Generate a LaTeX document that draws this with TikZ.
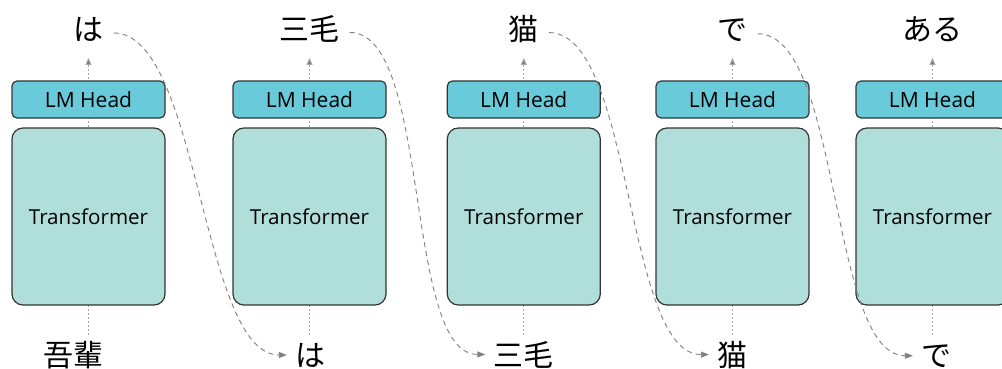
\documentclass[tikz,border=0pt]{standalone}
\usepackage{fontspec}
\setmainfont{Open Sans}
\newfontfamily\jp{Noto Sans CJK JP}
\usetikzlibrary{arrows.meta}
\definecolor{headfill}{HTML}{69CAD9}
\definecolor{bodyfill}{HTML}{B0DEDA}
\definecolor{edge}{HTML}{353535}
\definecolor{feedgray}{HTML}{A6A6A6}
\definecolor{passgray}{HTML}{7F7F7F}
\begin{document}
\begin{tikzpicture}[x=1pt,y=-1pt,
  head/.style={draw=edge,fill=headfill,line width=1.2pt,rounded corners=5pt,
    minimum width=153pt,minimum height=37pt,inner sep=0pt,
    font=\fontsize{21}{25}\selectfont},
  body/.style={draw=edge,fill=bodyfill,line width=1.2pt,rounded corners=11pt,
    minimum width=153pt,minimum height=177pt,inner sep=0pt,
    font=\fontsize{20.6}{25}\selectfont},
  word/.style={inner sep=0pt,anchor=base,font=\jp\fontsize{30}{36}\selectfont},
  feed/.style={draw=feedgray,line width=0.8pt,dash pattern=on 2pt off 2pt,
    -{Triangle[length=7pt,width=6pt,fill=passgray]}},
  pass/.style={draw=passgray,line width=0.9pt,dash pattern=on 5pt off 4pt,
    -{Triangle[length=8pt,width=6pt,fill=passgray]}}
]
\useasboundingbox (0,0) rectangle (1002,369);
\clip (0,0) rectangle (1002,369);

% one column per decoding step: x centre, output token, input token, input x
\foreach \i/\x/\outtok/\intok/\bx in {
    1/88.5/は/吾輩/73,
    2/309.5/三毛/は/310,
    3/523.8/猫/三毛/523.5,
    4/732.5/で/猫/732,
    5/932.5/ある/で/936}{
  \coordinate (in\i) at (\x,335);
  \coordinate (out\i) at (\x,58);
  \draw[feed] (in\i) -- (out\i);
  \node[head] (h\i) at (\x,99.5) {LM Head};
  \node[body] (tf\i) at (\x,216.5) {Transformer};
  \node[word] (t\i) at (\x,41) {\outtok};
  \node[word] (b\i) at (\bx,366) {\intok};
}

% each generated token is fed back as the next step's input
\foreach \i/\j in {1/2,2/3,3/4,4/5}{
  \draw[pass] ([xshift=10pt,yshift=-3pt]t\i.east)
    to[out=0,in=180,looseness=0.6] ([xshift=-8pt]b\j.west);
}
\end{tikzpicture}
\end{document}
